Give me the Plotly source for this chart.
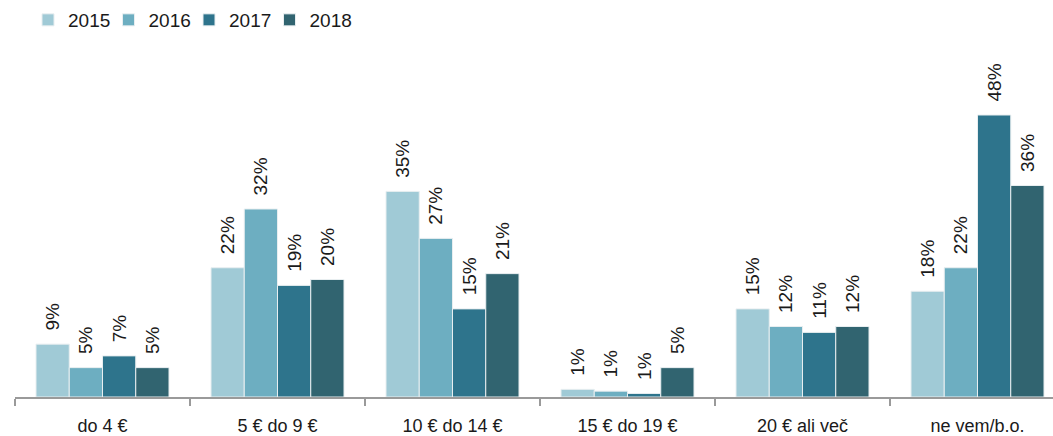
import plotly.graph_objects as go

categories = ["do 4 €", "5 € do 9 €", "10 € do 14 €", "15 € do 19 €", "20 € ali več", "ne vem/b.o."]
years = ["2015", "2016", "2017", "2018"]
v2015 = [9, 22, 35, 1.3, 15, 18]
v2016 = [5, 32, 27, 1.0, 12, 22]
v2017 = [7, 19, 15, 0.6, 11, 48]
v2018 = [5, 20, 21, 5, 12, 36]
series = [v2015, v2016, v2017, v2018]
colors = ["#a0cad6", "#6daec1", "#2e748c", "#316470"]

FONT = "Liberation Sans, Arial, sans-serif"
fig = go.Figure()
for name, vals, col in zip(years, series, colors):
    fig.add_trace(go.Bar(
        name=name, x=categories, y=vals,
        marker=dict(color=col, line=dict(color="#e8eef0", width=1)),
        texttemplate="\u00a0\u00a0%{y:.0f}%", textposition="outside", textangle=-90,
        constraintext="none",
        textfont=dict(size=19, color="#1a1a1a", family=FONT),
        cliponaxis=False,
    ))
# invisible spacer entry so the last legend label is not clipped
fig.add_trace(go.Scatter(x=[None], y=[None], name="\u00a0", mode="markers",
                         marker=dict(color="rgba(0,0,0,0)", size=1,
                                     line=dict(width=0, color="rgba(0,0,0,0)")),
                         hoverinfo="skip"))

W, H = 1053, 436
left, bottom, top = 15, 39, 50
cat_px = 175.0
plot_w = W - left
fig.update_layout(
    width=W, height=H,
    barmode="group", bargap=0.24, bargroupgap=0.0,
    paper_bgcolor="white", plot_bgcolor="white",
    margin=dict(l=left, r=0, t=top, b=bottom, pad=0, autoexpand=False),
    font=dict(family=FONT, size=18, color="#1a1a1a"),
    legend=dict(orientation="h", xref="container", yref="container",
                x=28 / W, y=1 - 20 / H, xanchor="left", yanchor="middle",
                font=dict(size=19, color="#1a1a1a", family=FONT),
                itemwidth=30, entrywidth=35.5, tracegroupgap=0,
                bgcolor="rgba(0,0,0,0)"),
    showlegend=True,
)
fig.update_xaxes(
    range=[-0.5, -0.5 + plot_w / cat_px], automargin=False,
    showline=True, linecolor="#9a9a9a", linewidth=2,
    ticks="outside", tickson="boundaries", ticklen=7, tickcolor="#9a9a9a", tickwidth=2,
    showgrid=False, zeroline=False,
    tickfont=dict(size=18, color="#1a1a1a", family=FONT),
    ticklabelstandoff=11,
)
plot_h = H - top - bottom
fig.update_yaxes(range=[0, plot_h / 5.875], visible=False, showgrid=False, zeroline=False,
                 automargin=False)

fig.write_html("out.html", config={"displayModeBar": False},
               post_script="document.body.style.margin='0';document.body.style.overflow='hidden';")
